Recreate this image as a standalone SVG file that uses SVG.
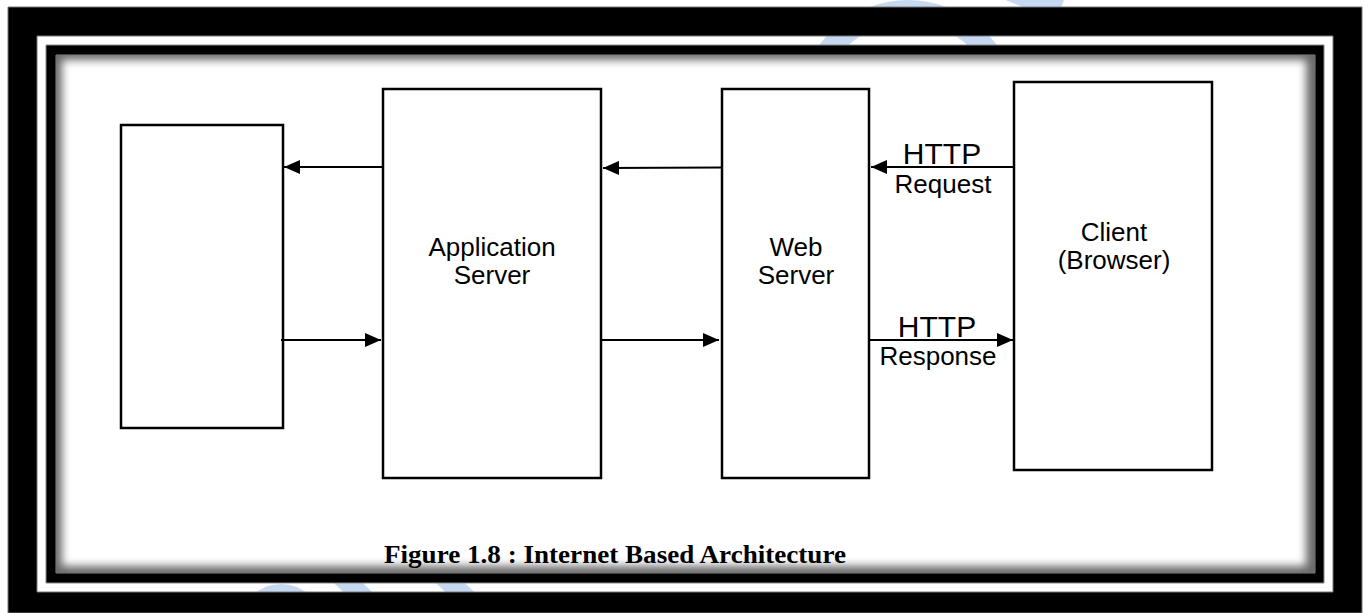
<svg xmlns="http://www.w3.org/2000/svg" width="1369" height="613" viewBox="0 0 1369 613">
<defs>
<style>
.box{fill:#fff;stroke:#000;stroke-width:2.5}
.lbl{font-family:"Liberation Sans",Arial,sans-serif;font-size:26px;fill:#000;text-anchor:middle}
.http{font-family:"Liberation Sans",Arial,sans-serif;font-size:30px;fill:#000;text-anchor:middle}
.cap{font-family:"Liberation Serif","Times New Roman",serif;font-size:26px;font-weight:bold;fill:#000}
.wm{fill:none;stroke:#c6d9f1}
.conn{stroke:#000;stroke-width:2.2;fill:none;marker-end:url(#ah)}
</style>
<marker id="ah" viewBox="0 0 16 14" refX="16" refY="7" markerWidth="16" markerHeight="14" markerUnits="userSpaceOnUse" orient="auto">
<path d="M0,0 L16,7 L0,14 Z" fill="#000"/>
</marker>
<clipPath id="inner"><rect x="56" y="55" width="1259" height="518"/></clipPath>
<filter id="blur" x="-5%" y="-5%" width="110%" height="110%"><feGaussianBlur stdDeviation="4"/></filter>
</defs>
<rect width="1369" height="613" fill="#fff"/>
<g id="watermark">
<circle class="wm" cx="908" cy="110" r="99" stroke-width="22"/>
<line class="wm" x1="1010" y1="-10" x2="1060" y2="10" stroke-width="22"/>
<circle class="wm" cx="281" cy="625" r="30" stroke-width="22"/>
<line class="wm" x1="340" y1="575" x2="366" y2="600" stroke-width="20"/>
<line class="wm" x1="442" y1="575" x2="468" y2="600" stroke-width="20"/>
</g>
<g id="frame">
<path d="M8,7 H1362 V613 H8 Z M37,36 V592 H1333 V36 Z" fill="#000" fill-rule="evenodd" stroke="#777" stroke-width="1"/>
<path d="M46,45 H1324 V583 H46 Z M56,55 V573 H1315 V55 Z" fill="#000" fill-rule="evenodd" stroke="#888" stroke-width="1"/>
<g clip-path="url(#inner)">
<rect x="56" y="55" width="1259" height="518" fill="#6a6a6a"/>
<rect x="62" y="60" width="1244" height="506" fill="#fff" filter="url(#blur)"/>
</g>
</g>
<g id="node-left">
<rect class="box" x="121" y="125" width="162" height="303"/>
</g>
<g id="node-app">
<rect class="box" x="383" y="89" width="218" height="389"/>
<text class="lbl" x="492" y="256">Application</text>
<text class="lbl" x="492" y="284">Server</text>
</g>
<g id="node-web">
<rect class="box" x="722" y="89" width="147" height="389"/>
<text class="lbl" x="796" y="256">Web</text>
<text class="lbl" x="796" y="284">Server</text>
</g>
<g id="node-client">
<rect class="box" x="1014" y="82" width="198" height="388"/>
<text class="lbl" x="1114" y="241">Client</text>
<text class="lbl" x="1114" y="269">(Browser)</text>
</g>
<g id="connectors">
<line class="conn" x1="383" y1="167" x2="284" y2="167"/>
<line class="conn" x1="722" y1="167.5" x2="603" y2="168"/>
<line class="conn" x1="1013" y1="167" x2="871" y2="167"/>
<line class="conn" x1="281" y1="340" x2="381" y2="340"/>
<line class="conn" x1="601" y1="340" x2="719" y2="340"/>
<line class="conn" x1="869" y1="340" x2="1013" y2="340"/>
<text class="http" x="942" y="164">HTTP</text>
<text class="lbl" x="943" y="193">Request</text>
<text class="http" x="937" y="337">HTTP</text>
<text class="lbl" x="938" y="365">Response</text>
</g>
<text class="cap" x="384" y="563" textLength="462" lengthAdjust="spacingAndGlyphs">Figure 1.8 : Internet Based Architecture</text>
</svg>
